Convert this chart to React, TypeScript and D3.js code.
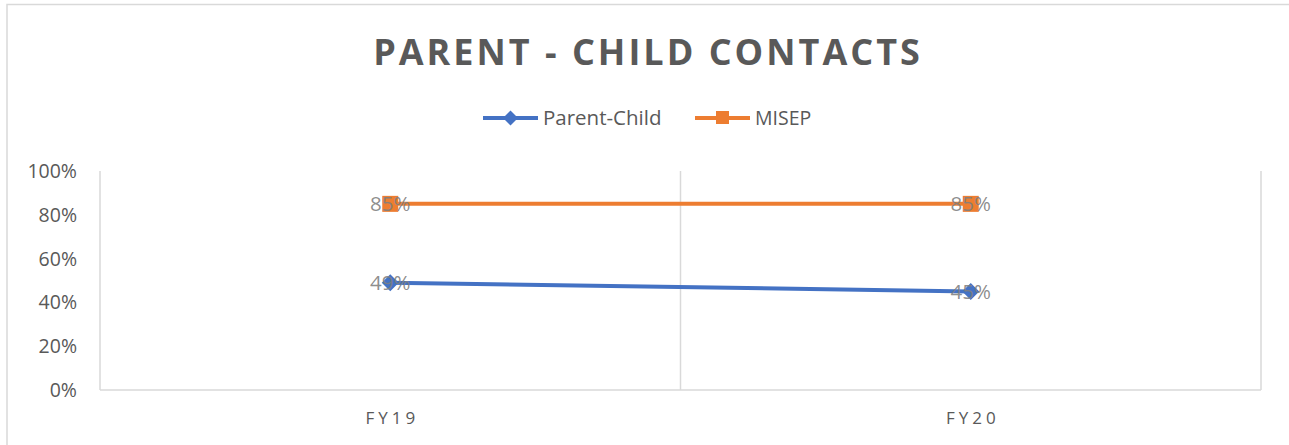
import React from "react";
import * as d3 from "d3";

const categories = ["FY19", "FY20"];
const parentChild = [0.49, 0.45];
const misep = [0.85, 0.85];
const yTicks = [0, 0.2, 0.4, 0.6, 0.8, 1.0];
const title = "PARENT - CHILD CONTACTS";

const W = 1289, H = 445;
const blue = "#4472C4", orange = "#ED7D31";
const font = "Open Sans, Liberation Sans, sans-serif";

export default function App() {
  const x = d3.scaleBand<string>().domain(categories).range([100, 1261]);
  const y = d3.scaleLinear().domain([0, 1]).range([390, 171]);
  const cx = (c: string) => (x(c) ?? 0) + x.bandwidth() / 2;
  const line = d3.line<number>().x((_, i) => cx(categories[i])).y((d) => y(d));
  const fmt = d3.format(".0%");
  const bounds = [x.range()[0], ...categories.map((c) => (x(c) ?? 0) + x.bandwidth())];

  const diamond = (px: number, py: number, r: number) =>
    `M${px},${py - r}L${px + r},${py}L${px},${py + r}L${px - r},${py}Z`;

  return (
    <svg width={W} height={H} style={{ position: "absolute", left: 0, top: 0 }}>
      <rect x={0} y={0} width={W} height={H} fill="#fff" />
      <rect x={7} y={4.5} width={W + 10} height={H + 10} fill="none" stroke="#d9d9d9" strokeWidth={1.5} />
      <text x={648} y={65} textAnchor="middle" fontFamily={font} fontWeight={700} fontSize={36} letterSpacing={3} fill="#595959">
        {title}
      </text>
      {/* legend */}
      <g>
        <line x1={483} x2={538} y1={118} y2={118} stroke={blue} strokeWidth={4} />
        <path d={diamond(510.5, 118, 7.5)} fill={blue} />
        <text x={543} y={125} fontFamily={font} fontSize={20.5} fill="#595959">Parent-Child</text>
        <line x1={695} x2={750} y1={118} y2={118} stroke={orange} strokeWidth={4} />
        <rect x={716} y={111} width={13} height={13} fill={orange} />
        <text x={755} y={125} fontFamily={font} fontSize={19.5} fill="#595959">MISEP</text>
      </g>
      {/* gridlines */}
      {bounds.map((b, i) => (
        <line key={i} x1={b} x2={b} y1={y(1)} y2={y(0)} stroke="#d9d9d9" strokeWidth={1.5} />
      ))}
      <line x1={100} x2={1261} y1={y(0)} y2={y(0)} stroke="#d9d9d9" strokeWidth={1.5} />
      {yTicks.map((t) => (
        <text key={t} x={77} y={y(t) + 7} textAnchor="end" fontFamily={font} fontSize={19.5} fill="#595959">
          {fmt(t)}
        </text>
      ))}
      {categories.map((c) => (
        <text key={c} x={cx(c) + 2} y={424} textAnchor="middle" fontFamily={font} fontSize={17} letterSpacing={4} fill="#595959">
          {c}
        </text>
      ))}
      {/* series */}
      <path d={line(misep) ?? ""} fill="none" stroke={orange} strokeWidth={4} />
      <path d={line(parentChild) ?? ""} fill="none" stroke={blue} strokeWidth={4} />
      {misep.map((v, i) => (
        <rect key={i} x={cx(categories[i]) - 8} y={y(v) - 8} width={16} height={16} fill={orange} />
      ))}
      {parentChild.map((v, i) => (
        <path key={i} d={diamond(cx(categories[i]), y(v), 8.5)} fill={blue} />
      ))}
      {misep.map((v, i) => (
        <text key={i} x={cx(categories[i])} y={y(v) + 7.5} textAnchor="middle" fontFamily={font} fontSize={20.5} fill="#7f7f7f" fillOpacity={0.9}>
          {fmt(v)}
        </text>
      ))}
      {parentChild.map((v, i) => (
        <text key={i} x={cx(categories[i])} y={y(v) + 7.5} textAnchor="middle" fontFamily={font} fontSize={20.5} fill="#7f7f7f" fillOpacity={0.9}>
          {fmt(v)}
        </text>
      ))}
    </svg>
  );
}
